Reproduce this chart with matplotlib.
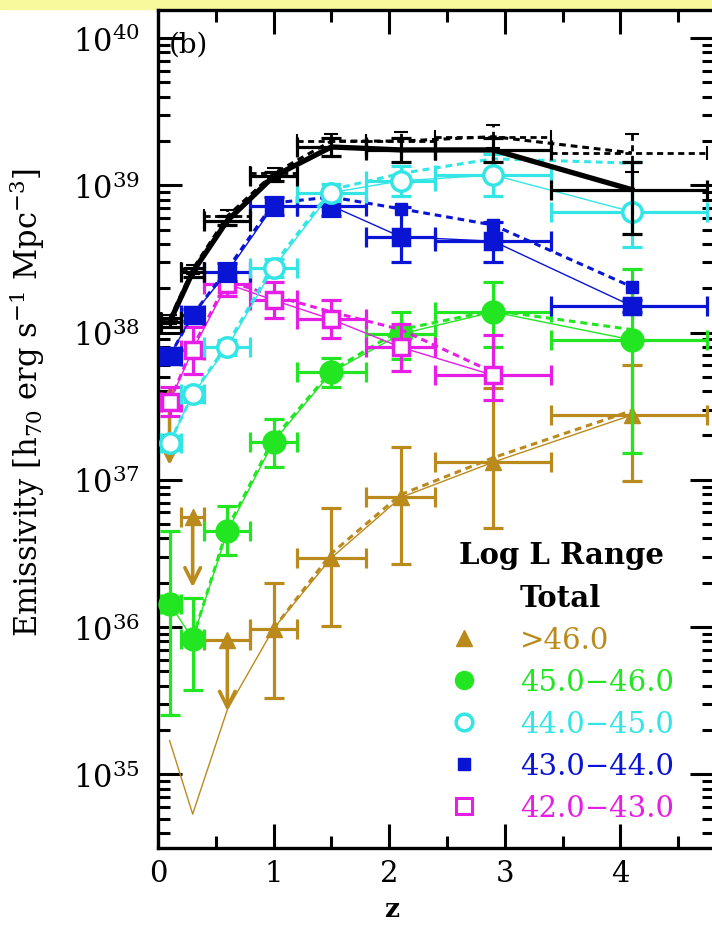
import numpy as np
import matplotlib.pyplot as plt
from matplotlib.lines import Line2D
from matplotlib.patches import Rectangle
from matplotlib.ticker import LogLocator, MultipleLocator, NullFormatter, LogFormatterMathtext

plt.rcParams['font.family'] = ['DejaVu Serif']
plt.rcParams['mathtext.fontset'] = 'dejavuserif'

# redshift bins
z_mid = [0.1, 0.3, 0.6, 1.0, 1.5, 2.1, 2.9, 4.1]
z_lo = [0.03, 0.2, 0.4, 0.8, 1.2, 1.8, 2.4, 3.4]
z_hi = [0.2, 0.4, 0.8, 1.2, 1.8, 2.4, 3.4, 4.75]

# log10 emissivity, errors in dex; *_alt = dotted estimate
total_log = [38.07, 38.41, 38.76, 39.06, 39.26, 39.24, 39.24, 38.97]
total_elo = [0.03, 0.03, 0.03, 0.03, 0.06, 0.08, 0.08, 0.30]
total_ehi = [0.03, 0.03, 0.03, 0.03, 0.06, 0.08, 0.08, 0.19]
total_alt = [38.09, 38.43, 38.79, 39.08, 39.30, 39.30, 39.33, 39.22]
total_alt_err = [0.03, 0.03, 0.04, 0.04, 0.05, 0.06, 0.08, 0.13]

cyan_log = [37.25, 37.58, 37.90, 38.44, 38.95, 39.03, 39.07, 38.82]
cyan_elo = [0.05, 0.05, 0.05, 0.06, 0.06, 0.10, 0.14, 0.24]
cyan_ehi = [0.05, 0.05, 0.05, 0.06, 0.06, 0.10, 0.14, 0.34]
cyan_alt = [37.25, 37.58, 37.92, 38.46, 38.97, 39.08, 39.18, 39.15]

blue_log = [37.84, 38.12, 38.41, 38.86, 38.86, 38.65, 38.62, 38.18]
blue_elo = [0.04, 0.04, 0.06, 0.06, 0.07, 0.17, 0.14, 0.04]
blue_ehi = [0.04, 0.04, 0.06, 0.06, 0.07, 0.20, 0.13, 0.04]
blue_alt = [37.84, 38.12, 38.43, 38.88, 38.92, 38.84, 38.73, 38.31]

mag_log = [37.53, 37.88, 38.33, 38.22, 38.09, 37.90, 37.71]
mag_elo = [0.10, 0.16, 0.08, 0.12, 0.13, 0.16, 0.17]
mag_ehi = [0.10, 0.16, 0.08, 0.12, 0.13, 0.16, 0.27]
mag_alt = [37.53, 37.90, 38.35, 38.25, 38.14, 38.02, 37.73]

green_log = [36.16, 35.92, 36.65, 37.26, 37.73, 37.99, 38.14, 37.95]
green_elo = [0.76, 0.35, 0.16, 0.17, 0.10, 0.17, 0.24, 0.77]
green_ehi = [0.49, 0.28, 0.17, 0.15, 0.10, 0.15, 0.20, 0.48]
green_alt = [np.nan, 35.92, 36.67, 37.28, 37.74, 38.02, 38.15, 38.02]

brown_log = [37.58, 36.75, 35.91, 35.99, 36.47, 36.88, 37.12, 37.44]
brown_elo = [0.0, 0.0, 0.0, 0.47, 0.46, 0.45, 0.45, 0.45]
brown_ehi = [0.0, 0.0, 0.0, 0.31, 0.34, 0.34, 0.50, 0.34]
brown_uplim = [True, True, True, False, False, False, False, False]
brown_line = [35.23, 34.73, 35.44, 35.99, 36.47, 36.88, 37.12, 37.44]
brown_alt = [np.nan, np.nan, np.nan, 35.99, 36.50, 36.90, 37.15, 37.47]

labels = ['>46.0', '45.0\u221246.0', '44.0\u221245.0', '43.0\u221244.0', '42.0\u221243.0']
BROWN, GREEN, CYAN, BLUE, MAG = '#bb8a1c', '#22e622', '#33e5e5', '#0a14d4', '#e61ee6'

fig = plt.figure(figsize=(7.12, 9.28), dpi=100)
fig.add_artist(Rectangle((0, 1 - 10 / 928), 1, 10 / 928, transform=fig.transFigure,
                         color='#f8f99c', zorder=-1))
ax = fig.add_axes([158 / 712, 79 / 928, 556 / 712, 838 / 928])
ax.set_yscale('log')


def xerr(n):
    zm = np.array(z_mid[:n])
    return [zm - np.array(z_lo[:n]), np.array(z_hi[:n]) - zm]


def yerr(v, lo, hi):
    v = np.array(v)
    return [10**v - 10**(v - np.array(lo)), 10**(v + np.array(hi)) - 10**v]


DOT = (0, (2.2, 1.6))
eb = dict(fmt='none', capsize=7, elinewidth=2.3, capthick=2.3)


def series(vals, lo, hi, alt, color, marker, ms, filled, z=3):
    n = len(vals)
    zm = z_mid[:n]
    ax.plot(zm, 10**np.array(vals), '-', color=color, lw=1, zorder=z)
    ax.plot(zm, 10**np.array(alt), color=color, lw=2.2, ls=DOT, zorder=z)
    ax.errorbar(zm, 10**np.array(vals), xerr=xerr(n), yerr=yerr(vals, lo, hi),
                ecolor=color, zorder=z, **eb)
    ax.plot(zm, 10**np.array(vals), linestyle='none', marker=marker, ms=ms,
            mfc=color if filled else 'white', mec=color, mew=2.5, zorder=z + 0.5)


# brown (>46): thin line, dotted estimate, points + upper limits
ax.plot(z_mid, 10**np.array(brown_line), '-', color=BROWN, lw=1, zorder=3)
ax.plot(z_mid, 10**np.array(brown_alt), color=BROWN, lw=2.2, ls=DOT, zorder=3)
det = [i for i in range(8) if not brown_uplim[i]]
ax.errorbar([z_mid[i] for i in det], [10**brown_log[i] for i in det],
            xerr=[[z_mid[i] - z_lo[i] for i in det], [z_hi[i] - z_mid[i] for i in det]],
            yerr=[[10**brown_log[i] - 10**(brown_log[i] - brown_elo[i]) for i in det],
                  [10**(brown_log[i] + brown_ehi[i]) - 10**brown_log[i] for i in det]],
            ecolor=BROWN, zorder=3, **eb)
for i in range(8):
    if brown_uplim[i]:
        ax.annotate('', xy=(z_mid[i], 10**(brown_log[i] - 0.48)), xytext=(z_mid[i], 10**brown_log[i]),
                    arrowprops=dict(arrowstyle='->', lw=2.6, color=BROWN, mutation_scale=28,
                                    shrinkA=0, shrinkB=0), zorder=3)
        if i > 0:
            ax.errorbar(z_mid[i], 10**brown_log[i], xerr=[[z_mid[i] - z_lo[i]], [z_hi[i] - z_mid[i]]],
                        ecolor=BROWN, zorder=3, **eb)
ax.plot(z_mid, 10**np.array(brown_log), linestyle='none', marker='^', ms=12, color=BROWN, zorder=3.5)

series(green_log, green_elo, green_ehi, green_alt, GREEN, 'o', 15, True, z=4)
series(mag_log, mag_elo, mag_ehi, mag_alt, MAG, 's', 12, False, z=5)
series(blue_log, blue_elo, blue_ehi, blue_alt, BLUE, 's', 11, True, z=6)
ax.plot(z_mid[5:], 10**np.array(blue_alt[5:]), linestyle='none', marker='s', ms=9, color=BLUE, zorder=6)
series(cyan_log, cyan_elo, cyan_ehi, cyan_alt, CYAN, 'o', 14, False, z=7)

# total
ax.plot(z_mid, 10**np.array(total_alt), color='black', lw=2.2, ls=DOT, zorder=8)
alt_eb = ax.errorbar(z_mid, 10**np.array(total_alt), xerr=xerr(8),
                     yerr=yerr(total_alt, total_alt_err, total_alt_err),
                     ecolor='black', fmt='none', capsize=5, elinewidth=2, capthick=1.5, zorder=8)
for lc in alt_eb.lines[2]:
    lc.set_linestyle(DOT)
ax.plot(z_mid, 10**np.array(total_log), '-', color='black', lw=3.8, zorder=9)
ax.errorbar(z_mid, 10**np.array(total_log), xerr=xerr(8),
            yerr=yerr(total_log, total_elo, total_ehi), ecolor='black', zorder=9, **eb)

ax.set_xlim(0, 4.81)
ax.set_ylim(10**34.5, 10**40.19)
ax.xaxis.set_major_locator(MultipleLocator(1))
ax.xaxis.set_minor_locator(MultipleLocator(0.5))
ax.yaxis.set_major_locator(LogLocator(base=10, numticks=20))
ax.yaxis.set_minor_locator(LogLocator(base=10, subs=np.arange(2, 10), numticks=20))
ax.yaxis.set_major_formatter(LogFormatterMathtext())
ax.yaxis.set_minor_formatter(NullFormatter())
ax.tick_params(which='both', direction='in', top=True, right=True, width=2.2, labelsize=22)
ax.tick_params(which='major', length=17)
ax.tick_params(which='minor', length=8.5)
ax.tick_params(axis='x', pad=8, labelsize=21)
ax.tick_params(axis='y', pad=13)
for s in ax.spines.values():
    s.set_linewidth(2.4)

ax.set_xlabel('z', fontsize=19, fontweight='bold')
ax.xaxis.set_label_coords(0.42, -0.057)
ax.set_ylabel('Emissivity [h$_{70}$ erg s$^{-1}$ Mpc$^{-3}$]', fontsize=22)
ax.yaxis.set_label_coords(-0.2, 0.533)
ax.text(0.02, 0.975, '(b)', transform=ax.transAxes, va='top', fontsize=20)

handles = [Line2D([], [], linestyle='none'),
           Line2D([], [], linestyle='none', marker='^', ms=12, color=BROWN),
           Line2D([], [], linestyle='none', marker='o', ms=13, color=GREEN),
           Line2D([], [], linestyle='none', marker='o', ms=12, mfc='white', mec=CYAN, mew=2.5),
           Line2D([], [], linestyle='none', marker='s', ms=9, color=BLUE),
           Line2D([], [], linestyle='none', marker='s', ms=11, mfc='white', mec=MAG, mew=2.2)]
leg = ax.legend(handles, ['Total'] + labels, loc='upper left', bbox_to_anchor=(0.525, 0.367),
                frameon=False, fontsize=21, title='Log L Range',
                title_fontproperties={'size': 21, 'weight': 'bold'},
                labelcolor=['black', BROWN, GREEN, CYAN, BLUE, MAG],
                handlelength=1.0, handletextpad=1.4, labelspacing=0.48,
                borderpad=0, borderaxespad=0)
leg.get_texts()[0].set_fontweight('bold')
leg.set_zorder(10)

fig.savefig('out.png', dpi=100)
